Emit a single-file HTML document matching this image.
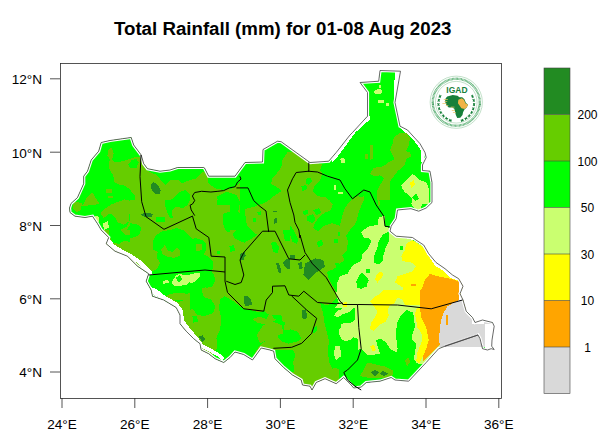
<!DOCTYPE html>
<html>
<head>
<meta charset="utf-8">
<style>
html,body{margin:0;padding:0;background:#fff;}
body{width:600px;height:432px;overflow:hidden;position:relative;font-family:"Liberation Sans",sans-serif;}
svg{position:absolute;left:0;top:0;}
text{font-family:"Liberation Sans",sans-serif;fill:#000;}
.t{font-size:18.7px;font-weight:bold;}
.a{font-size:13.6px;}
.c{font-size:12px;}
</style>
</head>
<body>
<svg width="600" height="432" viewBox="0 0 600 432">
<rect x="0" y="0" width="600" height="432" fill="#fff"/>
<text class="t" x="282.7" y="35" text-anchor="middle">Total Rainfall (mm) for 01-08 Aug 2023</text>
<!--MAP-->
<g id="map">
<defs><clipPath id="cp"><path d="M69.5 208L71 203.5L77.5 197.5L83.7 183.7L83.7 176.2L87.5 171.2L91.2 160L98.7 151.2L101.2 142.5L110 140.5L122.5 138.7L131.2 137.5L133.7 145L141.2 155L143.7 163.7L147.5 168.7L160 171.2L170 170L177.5 167.5L190 167.5L203.7 167.5L204.5 168L208.7 176.2L235 176.2L245 162.5L262.5 162L263 149.5L277.5 141.2L281.2 141.7L310 162.5L328.7 161.2L336.2 152.5L350 135L352.5 132.5L367.5 116.2L367.5 92.5L360 82.5L378.7 81.2L380 70.5L400.5 71.2L395 102.5L400 126.2L407.5 130L420 143.7L425 152.5L426.2 157.5L422.5 165L422.5 170.5L430 171.2L432 182.5L432 202.5L426.2 208L418.7 211.2L415 210L411 208.7L397.5 210L396.2 218.7L391.2 226.2L390 231.2L396.2 236.2L412.5 237.5L416 240L423.7 245L428.7 253.7L436 262.5L445 268.7L452.5 275L458.7 278.7L463 286.2L460 293.7L463 300L466.2 311.2L472.5 317.5L475 322.5L482.5 320L492.5 322.5L494.2 326.2L492 340L491.7 346.2L494.2 349.5L491.2 348.7L487.5 350L482.5 348.7L480 338.7L478 335L445 346.2L438.7 348.7L426.2 362.5L408.7 381.2L395 380L391.2 377.5L380 381.2L366.2 382.5L361.2 387L353.7 388L350 383.7L343.7 377.5L336.2 383.7L325 378.7L316.2 382.5L312 390L310 386.2L302.5 385L301.2 380L292.5 375L283.7 367.5L275 358.7L273.7 351.2L270 350L261.2 348L252.5 360L243.7 354.5L235 352L230 357.5L223.7 362.5L215 358.7L208.7 353.7L201.2 350L200 343.7L193.7 338.7L186.2 331.2L180 323.7L180 315L176.2 307.5L163.7 300L152.5 296.2L151.2 290L146.2 281.2L148.7 273.7L137.5 266.2L127.5 256.2L115 251.2L106.2 243.7L108.7 237.5L101.2 230L97.5 223.7L92.5 216.2L85 217.5L75 216.2L70 212.5Z"/></clipPath></defs>
<g clip-path="url(#cp)" shape-rendering="crispEdges">
<path d="M69.5 208L71 203.5L77.5 197.5L83.7 183.7L83.7 176.2L87.5 171.2L91.2 160L98.7 151.2L101.2 142.5L110 140.5L122.5 138.7L131.2 137.5L133.7 145L141.2 155L143.7 163.7L147.5 168.7L160 171.2L170 170L177.5 167.5L190 167.5L203.7 167.5L204.5 168L208.7 176.2L235 176.2L245 162.5L262.5 162L263 149.5L277.5 141.2L281.2 141.7L310 162.5L328.7 161.2L336.2 152.5L350 135L352.5 132.5L367.5 116.2L367.5 92.5L360 82.5L378.7 81.2L380 70.5L400.5 71.2L395 102.5L400 126.2L407.5 130L420 143.7L425 152.5L426.2 157.5L422.5 165L422.5 170.5L430 171.2L432 182.5L432 202.5L426.2 208L418.7 211.2L415 210L411 208.7L397.5 210L396.2 218.7L391.2 226.2L390 231.2L396.2 236.2L412.5 237.5L416 240L423.7 245L428.7 253.7L436 262.5L445 268.7L452.5 275L458.7 278.7L463 286.2L460 293.7L463 300L466.2 311.2L472.5 317.5L475 322.5L482.5 320L492.5 322.5L494.2 326.2L492 340L491.7 346.2L494.2 349.5L491.2 348.7L487.5 350L482.5 348.7L480 338.7L478 335L445 346.2L438.7 348.7L426.2 362.5L408.7 381.2L395 380L391.2 377.5L380 381.2L366.2 382.5L361.2 387L353.7 388L350 383.7L343.7 377.5L336.2 383.7L325 378.7L316.2 382.5L312 390L310 386.2L302.5 385L301.2 380L292.5 375L283.7 367.5L275 358.7L273.7 351.2L270 350L261.2 348L252.5 360L243.7 354.5L235 352L230 357.5L223.7 362.5L215 358.7L208.7 353.7L201.2 350L200 343.7L193.7 338.7L186.2 331.2L180 323.7L180 315L176.2 307.5L163.7 300L152.5 296.2L151.2 290L146.2 281.2L148.7 273.7L137.5 266.2L127.5 256.2L115 251.2L106.2 243.7L108.7 237.5L101.2 230L97.5 223.7L92.5 216.2L85 217.5L75 216.2L70 212.5Z" fill="#00FF00"/>
<path d="M60 130L240 130L240 274L60 274Z" fill="#66CD00"/>
<path d="M60 274L325 274L325 400L60 400Z" fill="#66CD00"/>
<path d="M240 238L325 238L325 300L240 300Z" fill="#66CD00"/>
<path d="M282.5 160L287.5 152.5L293.8 151.2L298.8 156.2L305 158.8L308.8 162.5L322.5 163.8L320 170L322.5 173.8L320 180L315 185L312.5 191.2L317.5 196.2L326.2 197.5L331.2 202.5L332.5 210L326.2 215L321.2 221.2L312.5 223.8L311.2 230L315 231.2L322.5 226.2L332.5 223.8L340 226.2L345 222.5L350 215L352.5 205L357.5 200L363.8 196.2L365 202.5L362.5 212.5L357.5 218.8L357.5 225L350 230L345 235L342.5 240L250 240L247.5 232.5L248.8 225L247.5 217.5L252.5 212.5L255 206.2L262.5 203.8L267.5 201.2L273.8 196.2L281.2 191.2L277.5 187.5L271.2 183.8L272.5 177.5L277.5 172.5L281.2 167.5Z" fill="#66CD00"/>
<path d="M371.2 172.5L376.2 167.5L383.8 166.2L390 167.5L390 202.5L386.2 210L381.2 215L377.5 216.2L376.2 205L378.8 200L377.5 190L382.5 186.2L383.8 177.5L378.8 175L373.8 176.2Z" fill="#66CD00"/>
<path d="M370 145L372.5 145L372.5 152.5L370 152.5Z" fill="#66CD00"/>
<path d="M60 230L60 130L134.1 130L139.9 154.3L142.2 157.8L136.4 156.6L129.4 158.9L122.5 161.2L115.6 162.4L112.1 160.1L113.7 153.1L111.4 147.4L108.6 149.7L107.5 155.5L109.8 160.1L108.6 164.7L109.8 170.5L113.2 175.1L114.4 182.1L117.9 184.4L124.8 185.6L129.4 189L135.2 196L134.1 201.8L124.8 199.4L117.9 201.8L112.1 204.1L105.1 208.7L100.5 213.3L102.8 216.8L104 230Z" fill="#00FF00"/>
<path d="M128.3 164.7L131.8 160.1L136.4 158.9L138.7 162.4L136.4 168.2L130.6 168.2Z" fill="#00FF00"/>
<path d="M143.3 165L156.7 166.7L163.3 171.7L170 170L178.3 166.7L203.3 165L208.3 175L203.3 171.7L196.7 178.3L190 180L181.7 183.3L178.3 180L170 180L165 185L156.7 175L146.7 170.7Z" fill="#00FF00"/>
<path d="M165 203.3L173.3 198.3L180 191.7L185 190L190 195L190 203.3L191.7 215L180 220L170 215L167.3 208.3Z" fill="#00FF00"/>
<path d="M206.7 165L241.7 165L242.7 180L233.3 188.3L223.3 190L215 188.3L208.3 183.3Z" fill="#00FF00"/>
<path d="M233.3 156.7L260 156.7L260 188.3L246.7 187.3L241.7 180L236.7 173.3Z" fill="#00FF00"/>
<path d="M216.7 196.7L226.7 191.7L236.7 195L240 201.7L238.3 211.7L246.7 218.3L260 216.7L260 230L250 233.3L240 230L233.3 225L226.7 226.7L223.3 220L225 211.7L220 205Z" fill="#00FF00"/>
<path d="M228.3 246.7L233.3 245L236.7 250L231.7 252.7Z" fill="#00FF00"/>
<path d="M128.3 226.7L135 221.7L141.7 226.7L150 230L160 231.7L175 226.7L188.3 221.7L193.3 218.3L200 223.3L206.7 230L208.3 240L203.3 246.7L205 256.7L200 260L193.3 258.3L186.7 263.3L176.7 266.7L160 263.3L153.3 256.7L151.7 246.7L140 240L131.7 236.7L126.7 231.7Z" fill="#00FF00"/>
<path d="M110 213.3L118.3 208.3L126.7 210L131.7 216.7L126.7 226.7L120 230L113.3 230L110 236.7L105 233.3L100 226.7L96.7 217.3L103.3 218.3Z" fill="#00FF00"/>
<path d="M140 263.3L146.7 258.3L155 261.7L160 270L156.7 276.7L141.7 276.7Z" fill="#00FF00"/>
<path d="M306.2 178.8L310 177.5L312.5 181.2L308.8 185L306.2 183.8Z" fill="#00FF00"/>
<path d="M301.2 186.2L306.2 185L307.5 188.8L302.5 191.2Z" fill="#00FF00"/>
<path d="M313.8 211.2L320 210L321.2 215L315 216.2Z" fill="#00FF00"/>
<path d="M302.5 210L307.5 210L307.5 213.8L302.5 213.8Z" fill="#00FF00"/>
<path d="M250 216.2L255 213.8L258.8 217.5L255 221.2Z" fill="#00FF00"/>
<path d="M133.3 250L153.3 250L161.7 260L171.7 263.3L186.7 266.7L200 265L210 260L213.3 250L225 250L225 256.7L213.3 257.3L206.7 270.7L210 281.7L205 286.7L196.7 288.3L193.3 295L185 296.7L178.3 300L170 293.3L165 286.7L158.3 285L151.7 281.7L140 276.7Z" fill="#00FF00"/>
<path d="M196.7 306.7L201.7 300L205 290L211.7 285L215 293.3L211.7 303.3L206.7 311.7L200 315L195 313.3Z" fill="#00FF00"/>
<path d="M223.3 300L230 296.7L240 306.7L250 315L260 313.3L266.7 310L273.3 313.3L280 311.7L285 316.7L300 315L300 333.3L290 333.3L281.7 340L273.3 336.7L266.7 340L260 345L256.7 350L251.7 360L240 356.7L233.3 355L226.7 360L218.3 361.7L216.7 350L220 336.7L223.3 326.7L221.7 313.3Z" fill="#00FF00"/>
<path d="M275 350L286.7 346.7L300 343.3L300 383.3L290 376.7L280 365L275 356.7Z" fill="#00FF00"/>
<path d="M191.7 316.7L196.7 316.7L196.7 321.7L191.7 321.7Z" fill="#00FF00"/>
<path d="M230 220L268.3 220L266.7 225L256.7 228.3L250 233.3L243.3 231.7L236.7 238.3L230 240Z" fill="#00FF00"/>
<path d="M315 225L321.7 221.7L325 228.3L320 233.3L315 231.7Z" fill="#00FF00"/>
<path d="M336.7 220L390 220L390 364L330 364L328.3 350L326.7 333.3L323.3 320L321.7 310L326.7 305L333.3 301.7L330 291.7L325 276.7L330 270L335 266.7L340 260L345 251.7L348.3 243.3L343.3 236.7L340 228.3Z" fill="#00FF00"/>
<path d="M230 330L240 326.7L250 331.7L256.7 336.7L255 346.7L243.3 348.3L230 346.7Z" fill="#00FF00"/>
<path d="M222.5 221.2L227.5 216.2L235 215L240 218.8L237.5 225L231.2 228.8L225 227.5Z" fill="#00FF00"/>
<path d="M251.2 220L256.2 216.2L262.5 218.8L261.2 223.8L255 225Z" fill="#00FF00"/>
<path d="M231.2 245L235 245L235 250L231.2 250Z" fill="#00FF00"/>
<path d="M271.2 242.5L276.2 241.2L278.8 247.5L276.2 252.5L272 251.2Z" fill="#00FF00"/>
<path d="M283.8 233.8L290 231.2L297.5 235L295 240L287.5 241.2Z" fill="#00FF00"/>
<path d="M305 215L312.5 212.5L320 217.5L318.8 225L312.5 227.5L306.2 223.8Z" fill="#00FF00"/>
<path d="M317.5 238.8L322.5 237.5L325 243.8L320 247.5Z" fill="#00FF00"/>
<path d="M190 237.5L197.5 238.8L205 243.8L210 250L208.8 257.5L200 256.2L190 253.8Z" fill="#00FF00"/>
<path d="M190 290L200 287.5L210 292.5L215 302.5L212.5 318L190 318Z" fill="#00FF00"/>
<path d="M90 230L190 230L190 330L90 330Z" fill="#66CD00"/>
<path d="M290 200L390 200L390 300L290 300Z" fill="#00FF00"/>
<path d="M270 300L370 300L370 395L270 395Z" fill="#66CD00"/>
<path d="M140 280L240 280L240 380L140 380Z" fill="#00FF00"/>
<path d="M108.5 230L120.1 230L124.7 234.6L134 235.8L139.8 238.1L138.6 241.6L131.7 242.7L124.7 240.4L118.9 243.9L113.1 242.7L109.7 236.9Z" fill="#00FF00"/>
<path d="M154.8 230L190 230L190 271.7L150.6 274.7L157.1 270.5L161.8 264.7L157.1 260.1L152.5 253.1L153.7 239.3Z" fill="#00FF00"/>
<path d="M150.6 275.1L190 271.7L190 297.1L182.6 299.4L176.8 297.1L171 294.8L166.4 291.3L159.4 287.9L154.8 285.6L145.6 282.1Z" fill="#00FF00"/>
<path d="M290 200L329.4 200L332.8 204.6L330.5 210.4L324.7 212.7L320.1 216.2L315.5 222L313.1 227.8L317.8 231.2L324.7 225.5L331.7 223.1L338.6 225.5L343.2 228.9L346.7 223.1L349 213.9L352.5 204.6L357.1 200L364.1 200L359.4 209.3L357.1 218.5L352.5 225.5L349 231.2L345.6 234.7L347.9 241.7L346.7 250.9L342.1 255.6L344.4 260.2L339.8 263.7L334 262.5L336.3 267.1L332.8 269.4L327 271.8L328.2 277.5L336.3 292.6L338.6 300L290 300Z" fill="#66CD00"/>
<path d="M319.8 301.9L325.6 305.4L330.2 304.3L334.8 299.6L339.4 295L370 295L370 395L337.1 395L339.4 383L338.3 373.7L332.5 369.1L329 362.1L327.9 350.6L329 341.3L326.7 332L324.4 322.8L323.2 313.5Z" fill="#00FF00"/>
<path d="M270 348.2L274.6 350.1L293.1 349.6L295.5 355.2L293.1 362.1L294.3 371.4L283.9 373.7L270 355.2Z" fill="#00FF00"/>
<path d="M270 308.9L275.8 310L283.9 315.8L281.6 322.8L285 327.4L292 329.7L297.8 332L301.2 337.8L297.8 341.3L288.5 343.6L281.6 341.3L276.9 335.5L273.5 329.7L270 327.4Z" fill="#00FF00"/>
<path d="M312.8 327.4L317.5 326.2L316.3 332L312.8 333.2Z" fill="#00FF00"/>
<path d="M150.4 286.9L158.5 288.1L166.6 291.6L171.2 298.5L178.2 302L186.3 299.7L193.2 293.9L197.9 288.1L201.3 284.6L207.1 283.5L209.4 280L240 280L240 308.9L232.6 300.8L226.8 296.2L223.3 286.9L219.9 293.9L222.2 303.1L221 312.4L223.3 321.7L219.9 329.8L216.4 337.9L217.5 347.1L211.8 356.4L204.8 354.1L197.9 349.4L195.6 340.2L188.6 333.2L181.7 324L178.2 314.7L174.7 305.5L167.8 302L160.8 298.5L149.3 295L140 280Z" fill="#66CD00"/>
<path d="M160.6 248.5L164.1 246.2L167.5 253.1L173.3 252L179.1 249.7L181.4 255.5L176.8 258.9L169.9 260.1L164.1 258.9L160.6 254.3Z" fill="#66CD00"/>
<path d="M302.7 211.6L307.4 209.3L308.5 213.9L303.9 215Z" fill="#00FF00"/>
<path d="M307.4 216.2L313.1 213.9L315.5 219.7L312 223.1L307.4 220.8Z" fill="#00FF00"/>
<path d="M313.1 210.4L318.9 208.1L321.2 212.7L316.6 215Z" fill="#00FF00"/>
<path d="M316.6 242.8L321.2 239.4L323.6 244L318.9 247.5Z" fill="#00FF00"/>
<path d="M337.5 232.4L340.9 232.4L340.9 235.9L337.5 235.9Z" fill="#00FF00"/>
<path d="M334 239.4L337.5 239.4L337.5 242.8L334 242.8Z" fill="#00FF00"/>
<path d="M290 225.5L293.5 230.1L298.1 239.4L296.9 244L292.3 241.7L290 234.7Z" fill="#00FF00"/>
<path d="M192.1 310.1L196.7 302L201.3 296.2L203.7 300.8L209.4 305.5L207.1 312.4L202.5 317L197.9 314.7L195.6 319.4Z" fill="#00FF00"/>
<path d="M192.1 317L195.6 314.7L197.4 320.5L194.4 322.8Z" fill="#00FF00"/>
<path d="M130 200L230 200L230 300L130 300Z" fill="#66CD00"/>
<path d="M190 230L290 230L290 330L190 330Z" fill="#66CD00"/>
<path d="M153.1 240.5L156.6 234.7L162.4 231.2L170.5 230.1L176.3 227.8L183.2 230.1L187.9 234.7L193.7 240.5L199.4 239.4L205.2 242.8L206.4 248.6L204.1 254.4L209.9 257.9L213.3 262.5L212.2 271.8L208.7 278.7L209.9 285.6L204.1 288L197.1 286.8L192.5 291.4L187.9 293.8L176.3 292.6L167 294.9L164.7 300L143.9 300L143.9 276.4L157.8 268.3L160.1 262.5L156.6 257.9L157.8 252.1L153.1 249.8Z" fill="#00FF00"/>
<path d="M164.7 200L190.2 200L187.9 204.6L183.2 208.1L176.3 206.9L171.7 210.4L172.8 217.4L170.5 218.5L167 211.6L164.7 204.6Z" fill="#00FF00"/>
<path d="M130 223.1L136.9 224.3L141.6 227.8L139.3 234.7L134.6 237L130 238.2Z" fill="#00FF00"/>
<path d="M155.5 217.4L164.7 217.4L164.7 222L155.5 222Z" fill="#00FF00"/>
<path d="M222.6 213.9L230 211.6L230 232.4L226.1 231.2L222.6 223.1Z" fill="#00FF00"/>
<path d="M216.8 200L230 200L230 204.6L216.8 204.6Z" fill="#00FF00"/>
<path d="M190 239.3L195.8 238.1L202.7 240.4L206.2 243.9L205 249.7L201.6 254.3L195.8 255.5L190 253.1Z" fill="#00FF00"/>
<path d="M232.8 233.5L236.3 230L259.4 230L256 235.8L250.2 239.3L244.4 242.7L238.6 240.4L234 238.1Z" fill="#00FF00"/>
<path d="M229.4 246.2L234 245L235.1 250.8L230.5 252Z" fill="#00FF00"/>
<path d="M216.6 250.8L220.1 250.8L220.1 254.3L216.6 254.3Z" fill="#00FF00"/>
<path d="M271 242.7L275.6 241.6L279.1 247.4L278 253.1L273.3 252Z" fill="#00FF00"/>
<path d="M282.6 230L290 230L290 241.6L284.9 240.4Z" fill="#00FF00"/>
<path d="M190 282.1L196.9 279.8L203.9 284.4L201.6 290.2L203.9 297.1L210.8 299.4L215.5 306.4L213.1 313.3L203.9 316.1L196.9 314.5L192.3 308.7L190 309.9Z" fill="#00FF00"/>
<path d="M202.7 274L213.1 272.8L215.5 279.8L212 286.7L206.2 287.9L202.7 282.1Z" fill="#00FF00"/>
<path d="M192.3 315.6L196.9 315.6L198.1 321.4L193.5 322.6Z" fill="#00FF00"/>
<path d="M220.1 299.4L224.7 296L234 301.8L243.2 308.7L259.4 312.2L264.1 311L268.7 314.5L266.4 319.1L259.4 316.8L252.5 319.1L257.1 322.6L266.4 324.9L278 319.1L284.9 322.6L283.8 330L220.1 330L221.2 318L218.9 308.7Z" fill="#00FF00"/>
<path d="M271 314.5L281.4 315.6L282.6 321.4L274.5 319.1Z" fill="#00FF00"/>
<path d="M161.2 249.8L164.7 245.1L168.2 250.9L172.8 252.1L176.3 247.5L179.8 249.8L179.8 255.6L174 257.9L167 256.7L162.4 254.4Z" fill="#66CD00"/>
<path d="M195.8 243.9L201.6 244.4L201.6 250.4L196.5 250.8Z" fill="#66CD00"/>
<path d="M244.6 209L253.9 206.7L265.5 204.4L268.9 211.3L268.9 232.1L262 232.1L256.2 234.4L251.6 229.8L246.9 225.2L245.8 218.2Z" fill="#66CD00"/>
<path d="M114.4 202.7L122.5 203.9L129.4 212L129.4 221.2L123.7 224.7L117.9 222.4L114.4 216.6L109.8 213.1L112.1 207.4Z" fill="#66CD00"/>
<path d="M257.4 212.5L260.8 211.3L261.3 214.8L258.1 215.5Z" fill="#00FF00"/>
<path d="M252.7 218.2L256.2 218.2L256.2 221.7L252.7 221.7Z" fill="#00FF00"/>
<path d="M361.2 232.5L365 228.8L370 226.2L377.5 225L378.8 217.5L385 215.5L385.5 227L389.5 228L391.2 233.8L397.5 237L408.8 237.5L412.5 240L470 275L470 308L335 308L338.8 302.5L336.2 295L337.5 282.5L340 276.2L347.5 273.8L351.2 267.5L355 263.8L361.2 261.2L362.5 253.8L367.5 248.8L371.2 241.2L370 238.8L363.8 237.5Z" fill="#CAFF70"/>
<path d="M378.8 241.2L382.5 235L388.8 231.2L389.5 240L386.2 246.2L383.8 253.8L382.5 261.2L378.8 264.5L373.8 262.5L374.5 255L377 248.8Z" fill="#00FF00"/>
<path d="M356.2 281.2L361.2 272.5L365 275L368.8 280L366.2 286.2L361.2 288.8L357.5 287.5Z" fill="#00FF00"/>
<path d="M366.2 268.8L370 268.8L370 272.5L366.2 272.5Z" fill="#00FF00"/>
<path d="M399.5 246.2L402.5 246.2L402.5 249.5L399.5 249.5Z" fill="#00FF00"/>
<path d="M405 250L406.2 243.8L412.5 240L420 245L427.5 252.5L431.2 258.8L440 266.2L447.5 272.5L455 278.8L470 282.5L470 308L405 308L402.5 302.5L405 295L402.5 287.5L395 282.5L397.5 276.2L405 273.8L412.5 271.2L416.2 266.2L411.2 262.5L402.5 261.2L401.2 256.2Z" fill="#FFFF00"/>
<path d="M376.2 275L380 271.2L383.8 273.8L381.2 278.8L377.5 282.5L375 280Z" fill="#FFFF00"/>
<path d="M372.5 300L376.2 293.8L381.2 290L385 295L390 297.5L395 298.8L400 308L370 308Z" fill="#FFFF00"/>
<path d="M430 273.8L437.5 276.2L450 278.8L458.8 281.2L470 282.5L470 308L421.2 308L420 300L421.2 290L425 280Z" fill="#FFA500"/>
<path d="M411.2 283.8L416.2 283.8L416.2 285.8L411.2 285.8Z" fill="#FFA500"/>
<path d="M357.5 290L480 290L480 365L418.8 363.8L415 362.5L357.5 362.5Z" fill="#CAFF70"/>
<path d="M341.2 323.8L347.5 322.5L353.8 326.2L355 335L350 340L342.5 338.8Z" fill="#CAFF70"/>
<path d="M335 346.2L340 346.2L341.2 356.2L336.2 360L333.8 355Z" fill="#CAFF70"/>
<path d="M397.5 322.5L401.2 315L406.2 312L412.5 312.5L413.8 317.5L412.5 325L411.2 331.2L412.5 340L416.2 343.8L415 352.5L413.8 358.8L416.2 362.5L407.5 372.5L405 378.8L396.2 378.8L392.5 375L391.2 365L386.2 357.5L380 353.8L377.5 346.2L376.2 340L381.2 338.8L386.2 342.5L390 348.8L396.2 352.5L398.8 346.2L396.2 338.8L396.2 330Z" fill="#00FF00"/>
<path d="M357.5 350L361.2 348.8L367.5 355.5L380 353.8L386.2 357.5L391.2 365L392.5 390L355 390L355 352.5Z" fill="#00FF00"/>
<path d="M370 301.2L373.8 297.5L380 293.8L383.8 290L420 290L420 305L405 305L402.5 300L397.5 297.5L393.8 303.8L390 305L387.5 310L388.8 315L386.2 321.2L381.2 323.8L377.5 327.5L373.8 331.2L370 328.8L371.2 322.5L375 317.5L377.5 311.2L373.8 306.2Z" fill="#FFFF00"/>
<path d="M416.2 308.8L420 307.5L421.2 317.5L426.2 327.5L428.8 340L426.2 348.8L422.5 357.5L418.8 363.8L416.2 361.2L417.5 352.5L420 346.2L422.5 340L421.2 332.5L417.5 327.5L416.2 320L415 315Z" fill="#FFFF00"/>
<path d="M370 346.2L373.8 345L376.2 350L372.5 351.2Z" fill="#FFFF00"/>
<path d="M420 290L458.8 290L458.8 300L447.5 306.2L443.8 312.5L441.2 320L440 327.5L438.8 340L440 345L436.2 348.8L422.5 362.5L423 356.2L426.2 348.8L428.8 340L426.2 327.5L421.2 317.5L420 307.5Z" fill="#FFA500"/>
<path d="M458.8 300L480 290L505 315L505 347L440 347L440 345L438.8 340L440 327.5L441.2 320L443.8 312.5L447.5 306.2Z" fill="#D9D9D9"/>
<path d="M446.2 315L448 315L448 325L446.2 325Z" fill="#FFA500"/>
<path d="M360 376.2L367.5 362.5L377.5 365L383.8 366.2L392.5 370L392.5 375L387.5 377.5L367.5 377.5Z" fill="#66CD00"/>
<path d="M371.2 372.5L375 369.5L378.8 372.5L375 376.2Z" fill="#228B22"/>
<path d="M380 373.8L382.5 370.5L388.8 373.8L383.8 376.2Z" fill="#228B22"/>
<path d="M405 360L408.8 357.5L410 362.5L407 366.2Z" fill="#66CD00"/>
<path d="M406.2 317.5L408.8 315L409.5 321.2L407 322.5Z" fill="#66CD00"/>
<path d="M332.5 367.5L338.8 368.8L338.8 376.2L332.5 376.2Z" fill="#66CD00"/>
<path d="M393.8 137.5L400 132.5L406.2 132.5L410 137.5L408.8 145L406.2 151.2L410 152.5L411.2 156.2L406.2 158.8L405 165L400 168L393.8 168L395 160L392.5 155L390 150L392.5 143.8Z" fill="#66CD00"/>
<path d="M370 146.2L372.5 145L373 158.8L370 160Z" fill="#66CD00"/>
<path d="M365 153.8L367.5 153.8L367.5 158.8L365 158.8Z" fill="#66CD00"/>
<path d="M373.8 91.2L378.8 88.8L382.5 90L381.2 93.8L375 94.5Z" fill="#CAFF70"/>
<path d="M378.8 85L381.2 85L381.2 87.5L378.8 87.5Z" fill="#CAFF70"/>
<path d="M377.5 100L383.8 100L383.8 102.5L377.5 102.5Z" fill="#CAFF70"/>
<path d="M385.5 103L388.8 103L388.8 105.5L385.5 105.5Z" fill="#CAFF70"/>
<path d="M340 158.8L342.5 157.5L345 160L342.5 162.5Z" fill="#CAFF70"/>
<path d="M370 173.8L373.8 167.5L380 168.8L385 165L390 161.2L393.8 160L396.2 150L405 150L410 153.8L406.2 157.5L402.5 167.5L397.5 171.2L393.8 176.2L390 181.2L386.2 185L381.2 187.5L377.5 193.8L380 202.5L378.8 207.5L377.5 200L377 191.2L380 185L383.8 178.8L381.2 175L375 176.2Z" fill="#66CD00"/>
<path d="M345 207.5L351.2 200L357.5 196.2L363.8 197.5L361.2 206.2L357.5 215L356.2 222.5L350 230L345 237.5L340 242.5L340 225L342.5 215Z" fill="#66CD00"/>
<path d="M341.2 158.8L345 158.8L345 162.5L341.2 162.5Z" fill="#CAFF70"/>
<path d="M401.2 185L407.5 178.8L412.5 173.8L420 180L426.2 182.5L429.5 190L428.8 203.8L422.5 203.8L420 210L415 208.8L411.2 203.8L412.5 198.8L408.8 195L405 192.5L402.5 188.8Z" fill="#CAFF70"/>
<path d="M410 182.5L413.8 180L415 185L411.2 188.8Z" fill="#FFFF00"/>
<path d="M412.5 197.5L416.2 193.8L418.8 198.8L415 201.2Z" fill="#00FF00"/>
<path d="M106.3 189L112.1 189L112.1 192.5L106.3 192.5Z" fill="#66CD00"/>
<path d="M107.5 196L113.2 196L113.2 198.3L107.5 198.3Z" fill="#66CD00"/>
<path d="M82 206.4L86.6 198.3L92.4 192.5L98.2 201.8L99.4 204.1L90.1 205.2Z" fill="#66CD00"/>
<path d="M73.9 201.8L82 202.9L80.8 209.9L76.2 212.2L72.7 208.7Z" fill="#66CD00"/>
<path d="M151.4 184.4L153.8 182.1L158.4 185.6L160.7 190.6L160 193.7L154.9 193.7L151.4 189Z" fill="#228B22"/>
<path d="M240 255L244 252.7L244 260L240 260.7Z" fill="#228B22"/>
<path d="M94.7 216.8L98.2 215.2L99.4 221.4L95.9 222.6Z" fill="#CAFF70"/>
<path d="M102.8 223.8L107.5 221.4L109.1 227.2L104 230Z" fill="#CAFF70"/>
<path d="M340 158.8L343 157.5L345 160.5L342 162.5Z" fill="#CAFF70"/>
<path d="M333.8 185L336.2 184.5L336.2 190L333.8 190Z" fill="#CAFF70"/>
<path d="M337.5 192L342.5 192L342.5 194L337.5 194Z" fill="#CAFF70"/>
<path d="M273.8 218.8L277.5 217.5L277 223L273.8 223.8Z" fill="#228B22"/>
<path d="M273 210.8L277 210.8L277 212L273 212Z" fill="#228B22"/>
<path d="M256.7 335L263.3 325L273.3 321.7L281.7 325L283.3 333.3L273.3 337.3L266.7 340L260 343.3Z" fill="#66CD00"/>
<path d="M298.3 263.3L301.7 261.7L302.7 268.3L299.3 269.3Z" fill="#228B22"/>
<path d="M305 263.3L315 258.3L323.3 260L325 266.7L315 273.3L308.3 280L303.3 275Z" fill="#228B22"/>
<path d="M301.7 310L306 309.3L307.3 318.3L302.7 319.3Z" fill="#228B22"/>
<path d="M290 255L295 255L295 259.3L290 259.3Z" fill="#228B22"/>
<path d="M333.7 315.8L337.1 311.2L341.8 308.9L345.2 306.6L349.9 305.4L353.3 307.7L348.7 312.4L341.8 314.7L338.3 317Z" fill="#CAFF70"/>
<path d="M339.4 329.7L341.8 325.1L348.7 323.9L354.5 320.5L355.6 306.6L358 305.4L359.1 339L351 336.7L347.5 341.3L341.8 340.1L339.4 334.4Z" fill="#CAFF70"/>
<path d="M341.8 303.1L346.4 301.9L347.5 306.6L343.6 307.7Z" fill="#FFFF00"/>
<path d="M199 336.7L202.5 335.1L205.3 339L202 342Z" fill="#228B22"/>
<path d="M162.4 281L168.2 279.9L169.4 282.9L163.6 283.8Z" fill="#CAFF70"/>
<path d="M171.7 282.2L176.3 275.2L179.8 274.1L186.7 275.2L193.7 273.6L199.4 273.6L197.1 277.5L191.3 281L186.7 284.5L179.8 286.1L174 286.1Z" fill="#CAFF70"/>
<path d="M140.4 214.4L146.2 212.7L153.1 213.9L152 216.7L145 217.4Z" fill="#228B22"/>
<path d="M239.8 254.3L244.4 252L245.6 255.5L241.4 260.1Z" fill="#228B22"/>
<path d="M243.7 296L247.4 295.5L250.6 299.4L252.5 305.2L245.6 305.9L243.7 301.8Z" fill="#228B22"/>
<path d="M276.1 263.6L278.4 262.4L280.7 268.2L281.4 273.5L278.7 272.8Z" fill="#228B22"/>
<path d="M282.6 262.4L287.2 258.9L290 258.9L290 269.4L286.1 268.2Z" fill="#228B22"/>
<path d="M190 274L199.3 272.8L200.4 276.3L194.6 282.1L190 283.2Z" fill="#CAFF70"/>
<path d="M176.3 277.5L179.8 275.2L182.1 278.7L179.8 282.2L177 281Z" fill="#00FF00"/>
<path d="M400 316.7L406.7 310L413.3 313.3L415 326.7L411.7 336.7L413.3 353.3L403.3 356.7L396.7 346.7L398.3 333.3Z" fill="#00FF00"/>
<path d="M356.7 283.3L361.7 275L368.3 278.3L366.7 286.7L360 288.3Z" fill="#00FF00"/>
<path d="M105.1 239.8L109.8 246.7L120.2 252.5L129.4 257.1L138.7 264.1L149.1 274.5L152.6 274.5L151.4 271L141 260.6L131.8 254.4L122.5 249.7L114.4 244.6L109.8 239.1Z" fill="#FFFFFF"/>
<path d="M150.4 286.9L153.9 295L163.1 298.5L174.7 305.5L179.4 314.7L180.5 324L186.3 332.1L194.4 340.2L200.2 347.1L209.4 351.8L217.5 356.4L222.2 361L224.5 357.5L218.7 353.1L211.8 349L203 344.4L197.9 337.4L189.8 328.1L184 320.5L182.8 310.1L177 302.5L165.5 296.2L156.2 288.8Z" fill="#FFFFFF"/>
<path d="M330.4 158.1L335 151.8L351.2 129.6L369.7 115.7L370.2 119.2L355.4 132.4L339.2 154.6L332.7 162Z" fill="#FFFFFF"/>
<path d="M401 125L406.8 128L418.3 139.5L424.1 148.8L423.9 162L421.3 162L421.3 151.1L417.2 144.4L410.2 136.5L403.3 130.8L399.8 126.8Z" fill="#FFFFFF"/>
<path d="M391.9 231.9L408.1 238.9L413.9 240L420.9 244.7L425.5 248.1L426.7 253.9L431.3 259.7L434.8 265.5L440.6 269L445.2 272.5L451 278.2L458.6 280.6L458.6 299.5L466 299.5L466 285.2L454.4 274.8L442.9 265.5L429 253.9L425.5 245.8L417.4 238.9L408.1 234.3L398.9 234.3Z" fill="#FFFFFF"/>
<path d="M394.7 71.3L403.3 71.3L397.5 96.7L403.3 125.7L399.4 125.7L396.1 108.3L394 103.7Z" fill="#FFFFFF"/>
<path d="M484.5 323.9L498 323.9L498 352.1L484.5 352.1Z" fill="#FFFFFF"/>
<path d="M472 313.9L476 319.7L484.1 319.7L484.5 323.9L472.5 323.9Z" fill="#FFFFFF"/>
<path d="M69.5 208L71 203.5L77.5 197.5L83.7 183.7L83.7 176.2L87.5 171.2L91.2 160L98.7 151.2L101.2 142.5L110 140.5L122.5 138.7L131.2 137.5L133.7 145L141.2 155L143.7 163.7L147.5 168.7L160 171.2L170 170L177.5 167.5L190 167.5L203.7 167.5L204.5 168L208.7 176.2L235 176.2L245 162.5L262.5 162L263 149.5L277.5 141.2L281.2 141.7L310 162.5L328.7 161.2L336.2 152.5L350 135L352.5 132.5L367.5 116.2L367.5 92.5L360 82.5L378.7 81.2L380 70.5L400.5 71.2L395 102.5L400 126.2L407.5 130L420 143.7L425 152.5L426.2 157.5L422.5 165L422.5 170.5L430 171.2L432 182.5L432 202.5L426.2 208L418.7 211.2L415 210L411 208.7L397.5 210L396.2 218.7L391.2 226.2L390 231.2L396.2 236.2L412.5 237.5L416 240L423.7 245L428.7 253.7L436 262.5L445 268.7L452.5 275L458.7 278.7L463 286.2L460 293.7L463 300L466.2 311.2L472.5 317.5L475 322.5L482.5 320L492.5 322.5L494.2 326.2L492 340L491.7 346.2L494.2 349.5L491.2 348.7L487.5 350L482.5 348.7L480 338.7L478 335L445 346.2L438.7 348.7L426.2 362.5L408.7 381.2L395 380L391.2 377.5L380 381.2L366.2 382.5L361.2 387L353.7 388L350 383.7L343.7 377.5L336.2 383.7L325 378.7L316.2 382.5L312 390L310 386.2L302.5 385L301.2 380L292.5 375L283.7 367.5L275 358.7L273.7 351.2L270 350L261.2 348L252.5 360L243.7 354.5L235 352L230 357.5L223.7 362.5L215 358.7L208.7 353.7L201.2 350L200 343.7L193.7 338.7L186.2 331.2L180 323.7L180 315L176.2 307.5L163.7 300L152.5 296.2L151.2 290L146.2 281.2L148.7 273.7L137.5 266.2L127.5 256.2L115 251.2L106.2 243.7L108.7 237.5L101.2 230L97.5 223.7L92.5 216.2L85 217.5L75 216.2L70 212.5Z" fill="none" stroke="#fff" stroke-width="3.2" shape-rendering="auto"/>
</g>
<path d="M439.6 345L444.7 344.7L477.1 333.6L478.5 334.8L480.8 342.9L483.6 347L439.6 347Z" fill="#D9D9D9"/>
<path d="M69.5 208L71 203.5L77.5 197.5L83.7 183.7L83.7 176.2L87.5 171.2L91.2 160L98.7 151.2L101.2 142.5L110 140.5L122.5 138.7L131.2 137.5L133.7 145L141.2 155L143.7 163.7L147.5 168.7L160 171.2L170 170L177.5 167.5L190 167.5L203.7 167.5L204.5 168L208.7 176.2L235 176.2L245 162.5L262.5 162L263 149.5L277.5 141.2L281.2 141.7L310 162.5L328.7 161.2L336.2 152.5L350 135L352.5 132.5L367.5 116.2L367.5 92.5L360 82.5L378.7 81.2L380 70.5L400.5 71.2L395 102.5L400 126.2L407.5 130L420 143.7L425 152.5L426.2 157.5L422.5 165L422.5 170.5L430 171.2L432 182.5L432 202.5L426.2 208L418.7 211.2L415 210L411 208.7L397.5 210L396.2 218.7L391.2 226.2L390 231.2L396.2 236.2L412.5 237.5L416 240L423.7 245L428.7 253.7L436 262.5L445 268.7L452.5 275L458.7 278.7L463 286.2L460 293.7L463 300L466.2 311.2L472.5 317.5L475 322.5L482.5 320L492.5 322.5L494.2 326.2L492 340L491.7 346.2L494.2 349.5L491.2 348.7L487.5 350L482.5 348.7L480 338.7L478 335L445 346.2L438.7 348.7L426.2 362.5L408.7 381.2L395 380L391.2 377.5L380 381.2L366.2 382.5L361.2 387L353.7 388L350 383.7L343.7 377.5L336.2 383.7L325 378.7L316.2 382.5L312 390L310 386.2L302.5 385L301.2 380L292.5 375L283.7 367.5L275 358.7L273.7 351.2L270 350L261.2 348L252.5 360L243.7 354.5L235 352L230 357.5L223.7 362.5L215 358.7L208.7 353.7L201.2 350L200 343.7L193.7 338.7L186.2 331.2L180 323.7L180 315L176.2 307.5L163.7 300L152.5 296.2L151.2 290L146.2 281.2L148.7 273.7L137.5 266.2L127.5 256.2L115 251.2L106.2 243.7L108.7 237.5L101.2 230L97.5 223.7L92.5 216.2L85 217.5L75 216.2L70 212.5Z" fill="none" stroke="#444" stroke-width="0.8" stroke-linejoin="round"/>
<path d="M445 346.2L478 335" fill="none" stroke="#444" stroke-width="0.8"/>
<g fill="none" stroke="#000" stroke-width="1" stroke-linejoin="round">
<path d="M141 155L140 176.7L141.7 201.7L146 216.7L164 229.3L192.7 216"/>
<path d="M239.9 176.3L241 179.1L237.5 182.1L235.2 186.7L229.4 187.9L223.7 190.6L217.9 191.3L210.9 192L201.7 191.3L194.7 192.5L192.4 196L194.7 200.6L192.4 204.1L190.1 205.2L191.2 209.9L194.7 215.6"/>
<path d="M236.4 187.9L248 187.9L253.7 200.6L260 206.4L266 211L268.7 232"/>
<path d="M192.5 216.2L196.2 228.8L208.8 237.5L211.2 256.2L225 257L225 281.2L227.5 292.5L243.8 308.8L263.8 311.2L266.2 300L272.5 292.5L272.5 286.2L285 285.8L288.8 295L298.8 296.2L303.8 291.2L317.5 302.5L336.2 303.8L342.5 303"/>
<path d="M148.7 275L205 270L225 272"/>
<path d="M268.8 231.2L262.5 231.2L243.8 252.5L240 260L243.8 275L241.2 282.5L235 284.5L226.2 281.2"/>
<path d="M268.8 231.2L275 231.2L288.8 258.8L300 260L305 255"/>
<path d="M308.8 162.5L308.8 171.2L296.2 172.5L292.5 178.8L287.5 190L290 202.5L293.8 215L295 222.5L298.8 230L300 238L300 235L305 252.5L312.5 263.8L326.2 277.5L335 292.5L340 301.2L343 304"/>
<path d="M291.7 296L306.7 310L316.7 318.3L311.7 333.3L301.7 343.3L291.7 347.3L273.3 348.3"/>
<path d="M308 171.2L317.5 172L327.5 176.2L340 180L345 188.8L352.5 198.8L363.8 190L370 192L376.2 205L383.8 216.2L385 226.2L390 227"/>
<path d="M342.5 304.5L357.5 304.5L397.5 305L431.2 308.8L462.5 300"/>
<path d="M357.5 304.5L358.8 327.5L361.2 348.8L357.5 360L347.5 370L343.8 372.5L347.5 380L355 386.2L361.2 390"/>
</g>
<g transform="translate(425,70) scale(0.1389)">
<circle cx="225" cy="232" r="196" fill="#fff"/>
<circle cx="225" cy="232" r="188" fill="none" stroke="#6db77f" stroke-width="3"/>
<circle cx="225" cy="232" r="169" fill="none" stroke="#2f9a4f" stroke-width="17" stroke-dasharray="6 3.5" opacity="0.8"/>
<circle cx="225" cy="232" r="150" fill="none" stroke="#6db77f" stroke-width="3"/>
<text x="230" y="168" text-anchor="middle" style="font-size:61px;font-weight:bold;fill:#17803a">IGAD</text>
<path d="M160 190L200 180L234 186L248 196L268 196L284 211L294 236L310 250L300 270L284 284L274 304L270 324L254 343L232 345L222 324L216 298L211 279L196 270L171 270L155 254L144 226L149 204Z" fill="#17803a"/>
<path d="M240 215L265 203L281 216L291 240L310 250L300 270L284 280L262 276L250 257L237 240Z" fill="#f0b347"/>
<rect x="135" y="209.5" width="30" height="5" fill="#f0c060"/>
<rect x="125" y="239.5" width="30" height="5" fill="#f0c060"/>
<rect x="140" y="225.5" width="20" height="5" fill="#f0c060"/>
<rect x="186" y="264.5" width="26" height="5" fill="#f0c060"/>
<rect x="193" y="288.5" width="23" height="5" fill="#f0c060"/>
<rect x="201" y="303.5" width="21" height="5" fill="#f0c060"/>
<rect x="150" y="253.5" width="18" height="5" fill="#f0c060"/>
<ellipse cx="108.1" cy="189.9" rx="13" ry="4.2" transform="rotate(-101.0 108.1 189.9)" fill="#17803a"/>
<ellipse cx="108.1" cy="189.9" rx="13" ry="4.2" transform="rotate(-31.0 108.1 189.9)" fill="#17803a"/>
<ellipse cx="99.1" cy="218.7" rx="13" ry="4.2" transform="rotate(-114.5 99.1 218.7)" fill="#17803a"/>
<ellipse cx="99.1" cy="218.7" rx="13" ry="4.2" transform="rotate(-44.5 99.1 218.7)" fill="#17803a"/>
<ellipse cx="97.2" cy="248.7" rx="13" ry="4.2" transform="rotate(-128.0 97.2 248.7)" fill="#17803a"/>
<ellipse cx="97.2" cy="248.7" rx="13" ry="4.2" transform="rotate(-58.0 97.2 248.7)" fill="#17803a"/>
<ellipse cx="102.3" cy="278.4" rx="13" ry="4.2" transform="rotate(-141.5 102.3 278.4)" fill="#17803a"/>
<ellipse cx="102.3" cy="278.4" rx="13" ry="4.2" transform="rotate(-71.5 102.3 278.4)" fill="#17803a"/>
<ellipse cx="114.1" cy="306.0" rx="13" ry="4.2" transform="rotate(-155.0 114.1 306.0)" fill="#17803a"/>
<ellipse cx="114.1" cy="306.0" rx="13" ry="4.2" transform="rotate(-85.0 114.1 306.0)" fill="#17803a"/>
<ellipse cx="132.2" cy="330.1" rx="13" ry="4.2" transform="rotate(-168.5 132.2 330.1)" fill="#17803a"/>
<ellipse cx="132.2" cy="330.1" rx="13" ry="4.2" transform="rotate(-98.5 132.2 330.1)" fill="#17803a"/>
<ellipse cx="155.3" cy="349.3" rx="13" ry="4.2" transform="rotate(-182.0 155.3 349.3)" fill="#17803a"/>
<ellipse cx="155.3" cy="349.3" rx="13" ry="4.2" transform="rotate(-112.0 155.3 349.3)" fill="#17803a"/>
<ellipse cx="182.3" cy="362.7" rx="13" ry="4.2" transform="rotate(-195.5 182.3 362.7)" fill="#17803a"/>
<ellipse cx="182.3" cy="362.7" rx="13" ry="4.2" transform="rotate(-125.5 182.3 362.7)" fill="#17803a"/>
<ellipse cx="341.9" cy="189.9" rx="13" ry="4.2" transform="rotate(31.0 341.9 189.9)" fill="#17803a"/>
<ellipse cx="341.9" cy="189.9" rx="13" ry="4.2" transform="rotate(101.0 341.9 189.9)" fill="#17803a"/>
<ellipse cx="350.9" cy="218.7" rx="13" ry="4.2" transform="rotate(44.5 350.9 218.7)" fill="#17803a"/>
<ellipse cx="350.9" cy="218.7" rx="13" ry="4.2" transform="rotate(114.5 350.9 218.7)" fill="#17803a"/>
<ellipse cx="352.8" cy="248.7" rx="13" ry="4.2" transform="rotate(58.0 352.8 248.7)" fill="#17803a"/>
<ellipse cx="352.8" cy="248.7" rx="13" ry="4.2" transform="rotate(128.0 352.8 248.7)" fill="#17803a"/>
<ellipse cx="347.7" cy="278.4" rx="13" ry="4.2" transform="rotate(71.5 347.7 278.4)" fill="#17803a"/>
<ellipse cx="347.7" cy="278.4" rx="13" ry="4.2" transform="rotate(141.5 347.7 278.4)" fill="#17803a"/>
<ellipse cx="335.9" cy="306.0" rx="13" ry="4.2" transform="rotate(85.0 335.9 306.0)" fill="#17803a"/>
<ellipse cx="335.9" cy="306.0" rx="13" ry="4.2" transform="rotate(155.0 335.9 306.0)" fill="#17803a"/>
<ellipse cx="317.8" cy="330.1" rx="13" ry="4.2" transform="rotate(98.5 317.8 330.1)" fill="#17803a"/>
<ellipse cx="317.8" cy="330.1" rx="13" ry="4.2" transform="rotate(168.5 317.8 330.1)" fill="#17803a"/>
<ellipse cx="294.7" cy="349.3" rx="13" ry="4.2" transform="rotate(112.0 294.7 349.3)" fill="#17803a"/>
<ellipse cx="294.7" cy="349.3" rx="13" ry="4.2" transform="rotate(182.0 294.7 349.3)" fill="#17803a"/>
<ellipse cx="267.7" cy="362.7" rx="13" ry="4.2" transform="rotate(125.5 267.7 362.7)" fill="#17803a"/>
<ellipse cx="267.7" cy="362.7" rx="13" ry="4.2" transform="rotate(195.5 267.7 362.7)" fill="#17803a"/>
<circle cx="58" cy="246" r="5.5" fill="#17803a"/><circle cx="396" cy="246" r="5.5" fill="#17803a"/>
</g>
</g><!--ENDMAP-->
<!--FRAME-->
<g stroke="#2a2a2a" stroke-width="0.8" fill="none">
<rect x="60.5" y="63.5" width="441" height="335"/>
<path d="M50 78.8H60M50 152.2H60M50 225.5H60M50 298.8H60M50 372H60"/>
<path d="M62 398V408M134.8 398V408M207.6 398V408M280.4 398V408M353.2 398V408M426 398V408M498.8 398V408"/>
</g>
<g class="a" text-anchor="end">
<text x="42" y="84.2">12°N</text>
<text x="42" y="157.6">10°N</text>
<text x="42" y="230.9">8°N</text>
<text x="42" y="304.2">6°N</text>
<text x="42" y="377.4">4°N</text>
</g>
<g class="a" text-anchor="middle">
<text x="62" y="428.6">24°E</text>
<text x="134.8" y="428.6">26°E</text>
<text x="207.6" y="428.6">28°E</text>
<text x="280.4" y="428.6">30°E</text>
<text x="353.2" y="428.6">32°E</text>
<text x="426" y="428.6">34°E</text>
<text x="498.8" y="428.6">36°E</text>
</g>
<!--COLORBAR-->
<g stroke="none">
<rect x="544" y="68.0" width="26" height="46.5" fill="#228B22"/>
<rect x="544" y="114.5" width="26" height="46.5" fill="#66CD00"/>
<rect x="544" y="161.0" width="26" height="46.5" fill="#00FF00"/>
<rect x="544" y="207.5" width="26" height="46.5" fill="#CAFF70"/>
<rect x="544" y="254.0" width="26" height="46.5" fill="#FFFF00"/>
<rect x="544" y="300.5" width="26" height="46.5" fill="#FFA500"/>
<rect x="544" y="347.0" width="26" height="46.5" fill="#D9D9D9"/>
</g>
<g stroke="#444" stroke-width="0.6" fill="none">
<rect x="544" y="68.0" width="26" height="325.5"/>
<path d="M544 114.5H570M544 161H570M544 207.5H570M544 254H570M544 300.5H570M544 347H570"/>
</g>
<g class="c" text-anchor="middle">
<text x="587.5" y="119">200</text>
<text x="587.5" y="165.5">100</text>
<text x="587.5" y="212">50</text>
<text x="587.5" y="258.5">30</text>
<text x="587.5" y="305">10</text>
<text x="587.5" y="351.5">1</text>
</g>
</svg>
</body>
</html>
